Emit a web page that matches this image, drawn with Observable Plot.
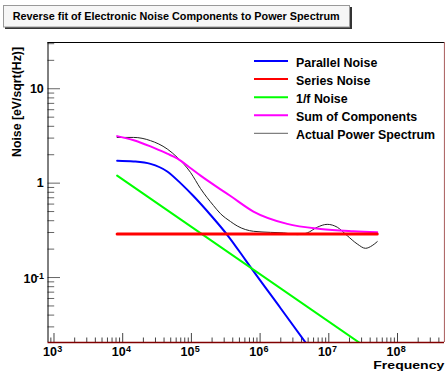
<!DOCTYPE html>
<html>
<head>
<meta charset="utf-8">
<script src="https://cdn.jsdelivr.net/npm/d3@7"></script>
<script src="https://cdn.jsdelivr.net/npm/@observablehq/plot@0.6"></script>
<style>
  html, body { margin: 0; padding: 0; background: #fff; }
  #chart { position: relative; width: 445px; height: 373px; overflow: hidden; }
  #chart svg { font-family: "Liberation Sans", Arial, Helvetica, sans-serif; }
</style>
</head>
<body>
<div id="chart"></div>
<script>
// Axis ranges (log-log)
const freqRange = [818, 4.83e8];
const noiseRange = [0.0205, 30.9];

// Tick labels: decades shown as 10^n
const xLabelExponents = [3, 4, 5, 6, 7, 8];
const yLabels = [
  {value: 10, base: "10", exp: ""},
  {value: 1, base: "1", exp: ""},
  {value: 0.1, base: "10", exp: "-1"}
];

// Parallel noise component
const parallelFreq  = [8.3e3, 1.44e4, 2.54e4, 4.45e4, 6.94e4, 1.07e5, 1.9e5, 3.47e5, 6.14e5, 7.67e5, 2.0e6, 5.0e6];
const parallelNoise = [1.73, 1.70, 1.60, 1.33, 1.00, 0.73, 0.46, 0.272, 0.153, 0.122, 0.047, 0.0188];

// Series noise component
const seriesFreq  = [8.3e3, 5.07e7];
const seriesNoise = [0.29, 0.29];

// 1/f noise component
const flickerFreq  = [8.3e3, 5.07e7];
const flickerNoise = [1.2, 0.0151];

// Sum of the fitted components
const sumFreq  = [8.3e3, 1.45e4, 2.54e4, 4.45e4, 6.2e4, 1.0e5, 1.36e5, 2.65e5, 3.71e5, 8.0e5, 2.48e6, 7.57e6, 2.29e7, 5.07e7];
const sumNoise = [3.15, 2.85, 2.45, 2.05, 1.83, 1.42, 1.20, 0.86, 0.73, 0.50, 0.37, 0.327, 0.309, 0.301];

// Measured power spectrum
const actualFreq  = [8.3e3, 1.44e4, 2.54e4, 4.45e4, 6.2e4, 9.7e4, 1.36e5, 2.1e5, 2.65e5, 3.71e5, 4.64e5, 8.0e5,
                     1.42e6, 2.19e6, 3.47e6, 4.85e6, 6.78e6, 9.48e6, 1.33e7, 1.85e7, 2.59e7, 3.42e7, 4.28e7, 5.07e7];
const actualNoise = [3.05, 3.05, 2.82, 2.30, 1.88, 1.30, 0.875, 0.578, 0.475, 0.392, 0.352, 0.309,
                     0.301, 0.297, 0.285, 0.297, 0.341, 0.366, 0.341, 0.278, 0.227, 0.204, 0.218, 0.240];

const legendItems = [
  {label: "Parallel Noise", color: "#0000ff", width: 2},
  {label: "Series Noise", color: "#ff0000", width: 2},
  {label: "1/f Noise", color: "#00ff00", width: 2},
  {label: "Sum of Components", color: "#ff00ff", width: 2},
  {label: "Actual Power Spectrum", color: "#808080", width: 1.2}
];

const W = 445, H = 373;
const M = {top: 42, right: 1, bottom: 31, left: 47.5};
const frameW = W - M.left - M.right, frameH = H - M.top - M.bottom;

const toPoints = (xs, ys) => xs.map((f, i) => ({f, v: ys[i]}));

// Minor tick values: 2..9 times each decade, inside the axis range
const minorTicks = (range) => {
  const out = [];
  for (let e = -3; e <= 9; e++) for (let m = 2; m <= 9; m++) {
    const v = m * 10 ** e;
    if (v > range[0] && v < range[1]) out.push(v);
  }
  return out;
};
const xMajor = xLabelExponents.map(e => 10 ** e);
const yMajor = yLabels.map(d => d.value);
const plainY = yLabels.filter(d => d.exp === "");
const powerY = yLabels.filter(d => d.exp !== "");

const plot = Plot.plot({
  width: W,
  height: H,
  marginTop: M.top,
  marginRight: M.right,
  marginBottom: M.bottom,
  marginLeft: M.left,
  style: {background: "white", fontFamily: "Liberation Sans, Arial, sans-serif", overflow: "visible"},
  x: {type: "log", domain: freqRange, axis: null},
  y: {type: "log", domain: noiseRange, axis: null},
  marks: [
    // inward tick marks
    Plot.tickX(minorTicks(freqRange), {x: d => d, insetTop: frameH - 4.5, stroke: "#444"}),
    Plot.tickX(xMajor, {x: d => d, insetTop: frameH - 9, stroke: "#444"}),
    Plot.tickY(minorTicks(noiseRange), {y: d => d, insetRight: frameW - 6.7, stroke: "#666"}),
    Plot.tickY(yMajor, {y: d => d, insetRight: frameW - 12.5, stroke: "#666"}),

    // curves
    Plot.line(toPoints(actualFreq, actualNoise), {x: "f", y: "v", stroke: "#222", strokeWidth: 1, curve: "monotone-x", clip: true}),
    Plot.line(toPoints(parallelFreq, parallelNoise), {x: "f", y: "v", stroke: "#0000ff", strokeWidth: 2, curve: "monotone-x", clip: true}),
    Plot.line(toPoints(flickerFreq, flickerNoise), {x: "f", y: "v", stroke: "#00ff00", strokeWidth: 2, clip: true}),
    Plot.line(toPoints(sumFreq, sumNoise), {x: "f", y: "v", stroke: "#ff00ff", strokeWidth: 2, curve: "monotone-x", clip: true}),
    Plot.line(toPoints(seriesFreq, seriesNoise), {x: "f", y: "v", stroke: "#ff0000", strokeWidth: 3, clip: true}),

    // frame
    Plot.ruleY([noiseRange[1]], {stroke: "black", strokeWidth: 1}),
    Plot.ruleX([freqRange[0]], {stroke: "black", strokeWidth: 1}),
    Plot.ruleX([freqRange[1]], {stroke: "#b06a6a", strokeWidth: 1.2}),
    Plot.ruleY([noiseRange[0]], {stroke: "#800000", strokeWidth: 1.5}),

    // x tick labels 10^n
    Plot.text(xLabelExponents, {x: e => 10 ** e, frameAnchor: "bottom", text: () => "10", textAnchor: "end",
      dx: 3, dy: 13.6, fontSize: 12.5, fontWeight: "bold", fill: "black"}),
    Plot.text(xLabelExponents, {x: e => 10 ** e, frameAnchor: "bottom", text: e => String(e), textAnchor: "start",
      dx: 3.3, dy: 9.2, fontSize: 9, fontWeight: "bold", fill: "black"}),

    // y tick labels
    Plot.text(plainY, {y: "value", frameAnchor: "left", text: "base", textAnchor: "end",
      dx: -4.2, fontSize: 12.5, fontWeight: "bold", fill: "black"}),
    Plot.text(powerY, {y: "value", frameAnchor: "left", text: "base", textAnchor: "end",
      dx: -10.6, dy: 1.8, fontSize: 12.5, fontWeight: "bold", fill: "black"}),
    Plot.text(powerY, {y: "value", frameAnchor: "left", text: "exp", textAnchor: "end",
      dx: -4.0, dy: -1.8, fontSize: 9, fontWeight: "bold", fill: "black"})
  ]
});

document.getElementById("chart").appendChild(plot);
const svg = d3.select(plot);

// title box with drop shadow
const title = svg.append("g").attr("class", "title");
title.append("rect").attr("x", 5).attr("y", 7).attr("width", 347).attr("height", 22).attr("fill", "#333");
title.append("rect").attr("x", 3.5).attr("y", 5.5).attr("width", 346).attr("height", 21.5)
  .attr("fill", "#f6f6f6").attr("stroke", "#999").attr("stroke-width", 1);
title.append("text").attr("x", 12.7).attr("y", 19.8).attr("text-anchor", "start")
  .attr("font-size", 11).attr("font-weight", "bold").attr("fill", "black")
  .attr("textLength", 327).attr("lengthAdjust", "spacingAndGlyphs")
  .text("Reverse fit of Electronic Noise Components to Power Spectrum");

// legend
const legend = svg.append("g").attr("class", "legend");
legendItems.forEach((d, i) => {
  const y = 61 + i * 18.1;
  legend.append("line").attr("x1", 254).attr("x2", 288).attr("y1", y).attr("y2", y)
    .attr("stroke", d.color).attr("stroke-width", d.width);
  legend.append("text").attr("x", 296).attr("y", y + 5.6).attr("text-anchor", "start")
    .attr("font-size", 12.4).attr("font-weight", "bold").attr("fill", "black").text(d.label);
});

// axis titles
svg.append("text").attr("transform", "translate(21,102) rotate(-90)")
  .attr("text-anchor", "middle").attr("font-size", 12.3).attr("font-weight", "bold").attr("fill", "black")
  .text("Noise [eV/sqrt(Hz)]");
svg.append("text").attr("x", 373.3).attr("y", 368.5).attr("text-anchor", "start")
  .attr("font-size", 11.5).attr("font-weight", "bold").attr("fill", "black")
  .attr("textLength", 71).attr("lengthAdjust", "spacingAndGlyphs")
  .text("Frequency");
</script>
</body>
</html>
